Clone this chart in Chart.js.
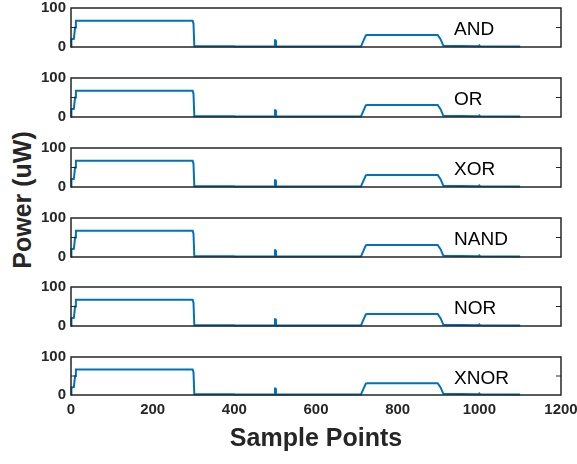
<!DOCTYPE html>
<html>
<head>
<meta charset="utf-8">
<script src="https://cdn.jsdelivr.net/npm/chart.js@4.4.1/dist/chart.umd.min.js"></script>
<style>
  html, body { margin: 0; padding: 0; background: #fff; }
  #wrap { position: relative; width: 577px; height: 464px; overflow: hidden; }
  .pane { position: absolute; left: 0; width: 577px; }
  #ytitle {
    position: absolute; left: 22px; top: 200px;
    transform: translate(-50%, -50%) rotate(-90deg);
    font: bold 25px Arial, "Liberation Sans", sans-serif; color: #262626;
    white-space: nowrap;
  }
</style>
</head>
<body>
<div id="wrap">
  <div id="ytitle">Power (uW)</div>
</div>
<script>
// gate names, one per subplot
const gates = ["AND", "OR", "XOR", "NAND", "NOR", "XNOR"];

// power trace (same shape in each subplot), sample index vs uW
const samplePoints = [0, 1, 7, 10, 12, 298, 300, 302, 400, 401, 498, 499.5, 500.5, 502, 520, 710, 722, 726, 898, 905, 912, 998, 1000, 1002, 1100];
const powerValues  = [0, 20, 21, 50, 67, 67, 60, 2, 2, 1.5, 1.5, 17, 17, 1.5, 1, 1, 30, 31, 31, 20, 3, 2, 4, 2, 1.5];

const xTicks = [0, 200, 400, 600, 800, 1000, 1200];
const yTicks = [0, 50, 100];

const paneTops = [8, 78, 148, 218, 287, 357];
const plotH = 39;
const fontFam = 'Arial, "Liberation Sans", sans-serif';
const axisColor = '#262626';

const boxPlugin = {
  id: 'box',
  afterDatasetsDraw(chart, args, opts) {
    const { ctx, chartArea: a, scales } = chart;
    ctx.save();
    ctx.strokeStyle = axisColor;
    ctx.lineWidth = 1.5;
    ctx.strokeRect(a.left, a.top, a.right - a.left, a.bottom - a.top);
    // inward tick at 50 on both sides
    ctx.lineWidth = 1.2;
    const y50 = scales.y.getPixelForValue(50);
    ctx.beginPath();
    ctx.moveTo(a.left, y50); ctx.lineTo(a.left + 5, y50);
    ctx.moveTo(a.right, y50); ctx.lineTo(a.right - 5, y50);
    ctx.stroke();
    // gate label
    ctx.fillStyle = '#000';
    ctx.font = '19px ' + fontFam;
    ctx.textAlign = 'left';
    ctx.textBaseline = 'middle';
    ctx.fillText(opts.label, scales.x.getPixelForValue(938), scales.y.getPixelForValue(44));
    ctx.restore();
  }
};

const wrap = document.getElementById('wrap');

gates.forEach((gate, i) => {
  const last = i === gates.length - 1;
  const div = document.createElement('div');
  div.className = 'pane';
  const top = paneTops[i] - 10;
  div.style.top = top + 'px';
  div.style.height = (last ? 464 - top : plotH + 20) + 'px';
  const canvas = document.createElement('canvas');
  div.appendChild(canvas);
  wrap.appendChild(div);

  new Chart(canvas, {
    type: 'line',
    data: {
      datasets: [{
        label: gate,
        data: samplePoints.map((x, k) => ({ x: x, y: powerValues[k] })),
        borderColor: '#0072BD',
        borderWidth: 2,
        pointRadius: 0,
        tension: 0,
        fill: false,
        clip: false
      }]
    },
    options: {
      responsive: true,
      maintainAspectRatio: false,
      animation: false,
      layout: { padding: { top: 10, bottom: last ? 0 : 10, left: 0, right: 16 } },
      plugins: {
        legend: { display: false },
        tooltip: { enabled: false },
        box: { label: gate }
      },
      scales: {
        x: {
          type: 'linear',
          min: 0,
          max: 1200,
          display: last,
          grid: { display: false, drawTicks: false },
          border: { display: false },
          afterBuildTicks: (scale) => { scale.ticks = xTicks.map(v => ({ value: v })); },
          afterFit: (scale) => {
            scale.height = last ? 69 : 0;
            scale.paddingLeft = 0;
            scale.paddingRight = 0;
          },
          ticks: {
            padding: 6,
            maxRotation: 0,
            autoSkip: false,
            color: axisColor,
            font: { family: fontFam, size: 15, weight: 'bold' },
            callback: (v) => String(v)
          },
          title: {
            display: true,
            text: 'Sample Points',
            color: axisColor,
            padding: { top: 0, bottom: 9.6 },
            font: { family: fontFam, size: 25, weight: 'bold' }
          }
        },
        y: {
          min: 0,
          max: 100,
          grid: { display: false, drawTicks: false },
          border: { display: false },
          afterBuildTicks: (scale) => { scale.ticks = yTicks.map(v => ({ value: v })); },
          afterFit: (scale) => { scale.width = 71; scale.paddingTop = 0; scale.paddingBottom = 0; },
          ticks: {
            padding: 5,
            color: axisColor,
            font: { family: fontFam, size: 15, weight: 'bold' }
          }
        }
      }
    },
    plugins: [boxPlugin]
  });
});
</script>
</body>
</html>
